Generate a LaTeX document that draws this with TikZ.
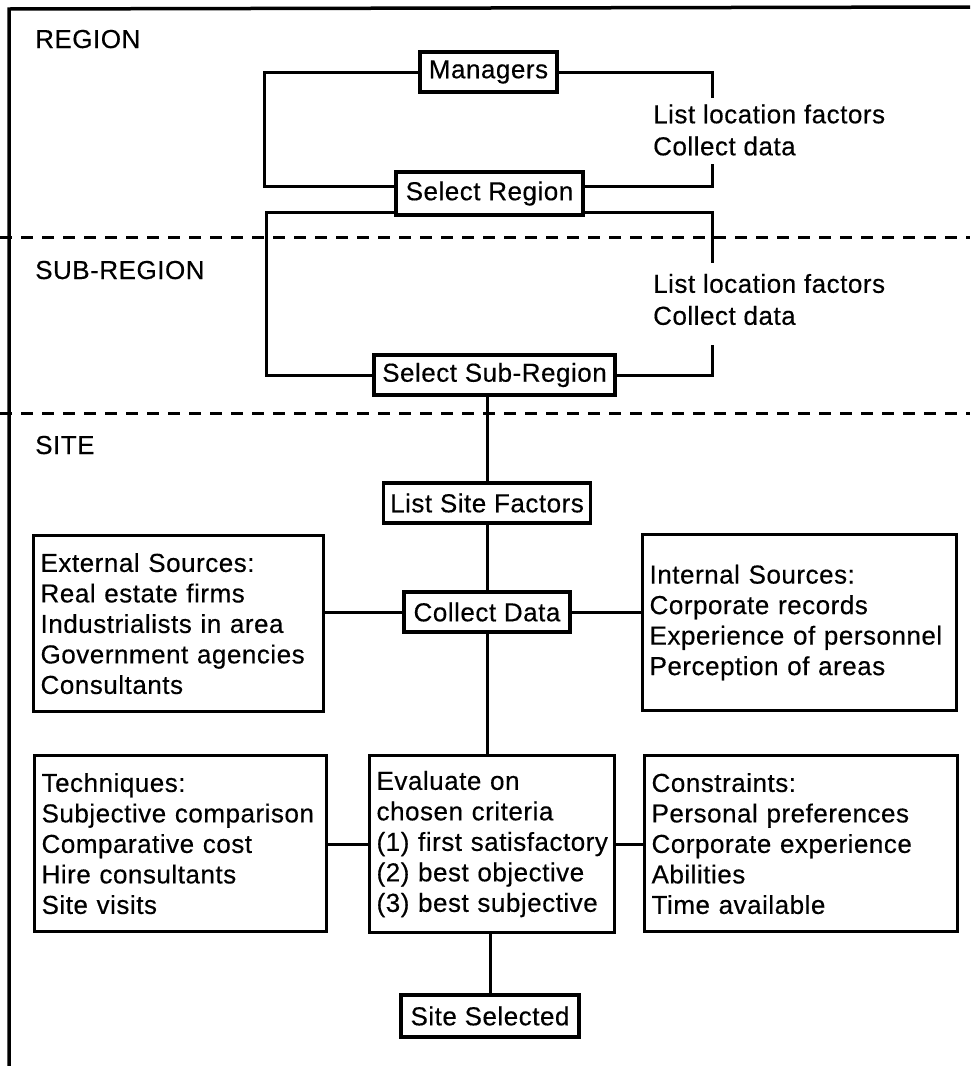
\documentclass[tikz,border=0pt]{standalone}
\usepackage{fontspec}
\setmainfont{Liberation Sans}[LetterSpace=2,FakeBold=0.4]
\begin{document}
\begin{tikzpicture}[x=1pt,y=-1pt,
  every node/.style={font=\fontsize{26}{30.5}\selectfont},
  box/.style={draw, line width=3.2pt, inner sep=0pt, align=center},
  infobox/.style={draw, line width=3.2pt, align=left, inner xsep=7pt,
    inner ysep=0pt, anchor=north west, minimum height=176pt},
  link/.style={line width=3pt},
  zone/.style={anchor=base west, inner sep=0pt},
  note/.style={anchor=west, align=left, inner sep=0pt,
    font=\fontsize{26}{32}\selectfont},
  divider/.style={line width=3pt, dash pattern=on 12pt off 9pt}]
\useasboundingbox (0,0) rectangle (970,1066);

% outer frame (top and left edges only)
\draw[line width=3.5pt] (9,1066) -- (9,9) -- (970,7);

% zone dividers
\draw[divider] (0,237) -- (970,237);
\draw[divider] (0,413) -- (970,413);

% zone titles
\node[zone] (zregion) at (35,48) {REGION};
\node[zone] (zsub) at (35,279) {SUB-REGION};
\node[zone] (zsite) at (35,454) {SITE};

% region stage
\node[box, minimum width=137pt, minimum height=40pt] (mgr) at (488.5,72) {Managers};
\node[box, minimum width=187pt, minimum height=43pt] (selreg) at (489.5,193.5) {Select Region};
\node[note] (noteA) at (653,130) {List location factors\\Collect data};
\coordinate (ra1) at (712,98);
\coordinate (ra2) at (712,164);
\draw[link] (mgr.west) -- ++(-154,0) |- ([yshift=7.5pt]selreg.west);
\draw[link] (mgr.east) -| (ra1);
\draw[link] ([yshift=7.5pt]selreg.east) -| (ra2);

% sub-region stage
\node[box, minimum width=241pt, minimum height=40pt] (selsub) at (494.5,375) {Select Sub-Region};
\node[note] (noteB) at (653,299.5) {List location factors\\Collect data};
\coordinate (rb1) at (712,263);
\coordinate (rb2) at (712,345);
\draw[link] ([yshift=-18.5pt]selreg.west) -- ++(-128,0) |- (selsub.west);
\draw[link] ([yshift=-18.5pt]selreg.east) -| (rb1);
\draw[link] (selsub.east) -| (rb2);

% site stage
\node[box, minimum width=207pt, minimum height=40pt] (lsf) at (487,503) {List Site Factors};
\node[box, minimum width=166pt, minimum height=40pt] (cd) at (487,612) {Collect Data};
\node[infobox, text width=276pt] (ext) at (32,534)
  {External Sources:\\Real estate firms\\Industrialists in area\\Government agencies\\Consultants};
\node[infobox, text width=300pt] (int) at (641,533)
  {Internal Sources:\\Corporate records\\Experience of personnel\\Perception of areas\\[12pt]};
\node[infobox, text width=278pt] (tech) at (33,754)
  {Techniques:\\Subjective comparison\\Comparative cost\\Hire consultants\\Site visits};
\node[infobox, text width=231pt, minimum height=177pt] (eval) at (368,754)
  {Evaluate on\\chosen criteria\\(1) first satisfactory\\(2) best objective\\(3) best subjective};
\node[infobox, text width=299pt] (cons) at (643,754)
  {Constraints:\\Personal preferences\\Corporate experience\\Abilities\\Time available};
\node[box, minimum width=178pt, minimum height=42pt] (done) at (490,1016) {Site Selected};

\draw[link] (lsf.north) -- (lsf.north |- selsub.south);
\draw[link] (lsf.south) -- (cd.north);
\draw[link] (cd.south) -- (cd.south |- eval.north);
\draw[link] (cd.west) -- (cd.west -| ext.east);
\draw[link] (cd.east) -- (cd.east -| int.west);
\draw[link] (eval.west) -- (eval.west -| tech.east);
\draw[link] (eval.east) -- (eval.east -| cons.west);
\draw[link] (done.north) -- (done.north |- eval.south);
\end{tikzpicture}
\end{document}
